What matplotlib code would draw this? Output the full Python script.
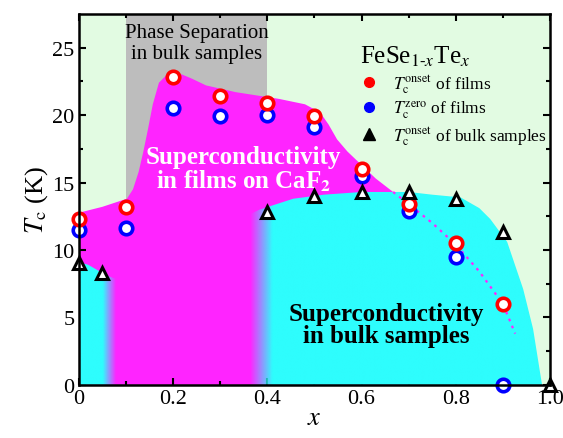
import numpy as np
import matplotlib
matplotlib.use("Agg")
import matplotlib.pyplot as plt
from matplotlib.patches import Polygon
from matplotlib.lines import Line2D

plt.rcParams['font.family'] = 'Liberation Serif'
plt.rcParams['mathtext.fontset'] = 'stix'

# Te content x and transition temperatures
x_films = [0, 0.1, 0.2, 0.3, 0.4, 0.5, 0.6, 0.7, 0.8, 0.9]
tc_onset_films = [12.3, 13.2, 22.8, 21.4, 20.9, 19.9, 16.0, 13.4, 10.5, 6.0]
tc_zero_films = [11.5, 11.6, 20.5, 19.9, 20.0, 19.1, 15.5, 12.9, 9.5, 0.0]

x_bulk = [0, 0.05, 0.4, 0.5, 0.6, 0.7, 0.8, 0.9, 1.0]
tc_onset_bulk = [9.0, 8.3, 12.8, 14.0, 14.3, 14.3, 13.8, 11.3, 0.0]

# phase boundaries (hand traced)
film_edge_x = [0, 0.05, 0.102, 0.115, 0.127, 0.137, 0.147, 0.157, 0.17, 0.19, 0.206, 0.24,
               0.27, 0.333, 0.425, 0.48, 0.512, 0.53, 0.548, 0.57, 0.597, 0.63, 0.667, 0.70]
film_edge_t = [12.76, 13.2, 13.8, 14.5, 15.8, 17.3, 19.0, 20.8, 22.4, 23.1, 23.2, 22.7,
               22.2, 21.7, 21.2, 20.8, 20.2, 19.3, 18.2, 17.3, 16.4, 15.3, 14.3, 14.1]

bulk_edge_x = [0, 0.02, 0.04, 0.06, 0.075, 0.35, 0.36, 0.384, 0.455, 0.52, 0.6, 0.7,
               0.75, 0.81, 0.85, 0.873, 0.909, 0.943, 0.964, 0.983]
bulk_edge_t = [9.1, 8.9, 8.5, 8.1, 7.9, 7.9, 12.6, 13.0, 13.8, 14.1, 14.3, 14.3,
               14.1, 13.9, 13.1, 12.3, 10.6, 7.1, 4.15, 0.0]

# guide to the eye for the films beyond the bulk dome
guide_x = [0.667, 0.7, 0.75, 0.8, 0.85, 0.9, 0.926]
guide_t = [14.3, 13.4, 12.0, 10.4, 8.4, 6.0, 3.8]

bg_green = '#e2fbe2'
magenta = '#ff24ff'
cyan = '#2efdfd'

fig = plt.figure(figsize=(5.63, 4.39), dpi=100)
ax = fig.add_axes([0.140, 0.121, 0.837, 0.845])
ax.set_facecolor(bg_green)
ax.set_xlim(0, 1.0)
ax.set_ylim(0, 27.5)

# phase separation window
ax.axvspan(0.1, 0.4, color='#bdbdbd', zorder=0.5, lw=0)

# films region
film_poly = list(zip(film_edge_x, film_edge_t)) + [(0.70, 0), (0, 0)]
ax.add_patch(Polygon(film_poly, closed=True, facecolor=magenta, edgecolor='none', zorder=1))

# bulk region with a fading cyan overlay
bulk_poly = Polygon([(0, 0)] + list(zip(bulk_edge_x, bulk_edge_t)), closed=True,
                    facecolor='none', edgecolor='none')
ax.add_patch(bulk_poly)
xs = np.linspace(0, 1, 800)
alpha = np.ones_like(xs)
left = (xs > 0.05) & (xs < 0.078)
alpha[left] = 1 - (xs[left] - 0.05) / 0.028
alpha[(xs >= 0.078) & (xs <= 0.363)] = 0
right = (xs > 0.363) & (xs < 0.41)
alpha[right] = (xs[right] - 0.363) / 0.047
rgba = np.zeros((2, len(xs), 4))
rgba[..., :3] = matplotlib.colors.to_rgb(cyan)
rgba[..., 3] = alpha
im = ax.imshow(rgba, extent=[0, 1, 0, 27.5], aspect='auto', origin='lower',
               interpolation='bilinear', zorder=2)
im.set_clip_path(bulk_poly)

ax.plot(guide_x, guide_t, ls=(0, (1.2, 2.2)), color=magenta, lw=1.6, zorder=3)

ax.plot(x_films, tc_onset_films, 'o', ms=9, mfc='white', mec='red', mew=2.6,
        zorder=6, clip_on=False)
ax.plot(x_films, tc_zero_films, 'o', ms=9, mfc='white', mec='blue', mew=2.6,
        zorder=5, clip_on=False)
ax.plot(x_bulk, tc_onset_bulk, '^', ms=9, mfc='white', mec='black', mew=2.2,
        zorder=6, clip_on=False)

ax.text(0.25, 26.8, 'Phase Separation\nin bulk samples', ha='center', va='top',
        fontsize=15, linespacing=1.12, zorder=4)
ax.text(0.35, 16.0, 'Superconductivity\nin films on CaF$_\\mathbf{2}$', ha='center',
        va='center', fontsize=18, fontweight='bold', color='white', linespacing=0.95,
        zorder=4)
ax.text(0.652, 4.5, 'Superconductivity\nin bulk samples', ha='center', va='center',
        fontsize=18, fontweight='bold', color='black', linespacing=0.95, zorder=4)

handles = [
    Line2D([], [], ls='none', marker='o', ms=7, mfc='red', mec='red'),
    Line2D([], [], ls='none', marker='o', ms=7, mfc='blue', mec='blue'),
    Line2D([], [], ls='none', marker='^', ms=8, mfc='black', mec='black'),
]
labels = [r'$T_\mathrm{c}^\mathrm{onset}$ of films',
          r'$T_\mathrm{c}^\mathrm{zero}$ of films',
          r'$T_\mathrm{c}^\mathrm{onset}$ of bulk samples']
leg = ax.legend(handles, labels, title=r'FeSe$_{1\text{-}x}$Te$_x$', loc='upper right',
                bbox_to_anchor=(1.015, 0.948), frameon=False, fontsize=12.5,
                title_fontsize=18, handletextpad=0.9, labelspacing=0.22,
                borderaxespad=0.2, handlelength=1.0, alignment='left')
leg.set_zorder(7)

ax.set_xticks([0, 0.2, 0.4, 0.6, 0.8, 1.0])
ax.set_xticklabels(['0', '0.2', '0.4', '0.6', '0.8', '1.0'])
ax.set_xticks(np.arange(0.1, 1.0, 0.2), minor=True)
ax.set_yticks([0, 5, 10, 15, 20, 25])
ax.set_yticks(np.arange(2.5, 27.5, 5), minor=True)
ax.tick_params(which='both', direction='in', top=True, right=True, width=1.5,
               labelsize=16)
ax.tick_params(which='major', length=5, pad=3)
ax.tick_params(which='minor', length=3)
for sp in ax.spines.values():
    sp.set_linewidth(1.8)
    sp.set_zorder(8)

ax.set_xlabel('$x$', fontsize=19, labelpad=-1)
ax.set_ylabel(r'$T_\mathrm{c}$ (K)', fontsize=19, labelpad=2)

fig.savefig('out.png', dpi=100)
